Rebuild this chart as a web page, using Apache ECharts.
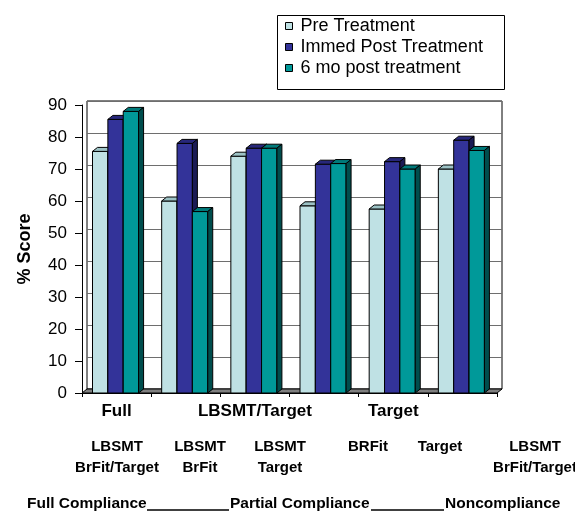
<!DOCTYPE html>
<html>
<head>
<meta charset="utf-8">
<script src="https://cdn.jsdelivr.net/npm/echarts@6/dist/echarts.min.js"></script>
<style>
  html, body { margin: 0; padding: 0; background: #fff; }
  #chart { width: 575px; height: 511px; }
</style>
</head>
<body>
<div id="chart"></div>
<script>
// categories (excel only shows every other label on the axis)
var categories = ['Full', 'LBSMT/BrFit', 'LBSMT/Target', 'BrFit', 'Target', 'None'];
var seriesNames = ['Pre Treatment', 'Immed Post Treatment', '6 mo post treatment'];
var preTreatment = [75.5, 60, 74, 58.5, 57.5, 70];
var immedPost = [85.5, 78, 76.5, 71.5, 72.3, 79];
var sixMoPost = [88, 56.7, 76.5, 71.7, 70, 75.8];
var yTicks = [0, 10, 20, 30, 40, 50, 60, 70, 80, 90];
var subLabels = ['LBSMT\nBrFit/Target', 'LBSMT\nBrFit', 'LBSMT\nTarget', 'BRFit', 'Target', 'LBSMT\nBrFit/Target'];
var complianceLabels = ['Full Compliance', 'Partial Compliance', 'Noncompliance'];

// 3d look: front / top / side colours per series
var faces = [
  { front: '#bfe1e4', top: '#9cc2c5', side: '#7fa3a6' },
  { front: '#333399', top: '#27277a', side: '#1b1b55' },
  { front: '#009999', top: '#007a7a', side: '#004d4d' }
];
var DX = 5, DY = 4;

function barRenderer(idx) {
  return function (params, api) {
    var cat = api.value(0);
    var base = api.coord([cat, 0]);
    var top = api.coord([cat, api.value(1)]);
    var band = api.size([1, 0])[0];
    var w = band * 0.222;
    var cx = base[0] + (idx - 1) * w - band * 0.015;
    var x0 = cx - w / 2, x1 = cx + w / 2;
    var f = faces[idx];
    var line = { stroke: '#000', lineWidth: 1 };
    return {
      type: 'group',
      children: [
        { type: 'rect', shape: { x: x0, y: top[1], width: w, height: base[1] - top[1] },
          style: Object.assign({ fill: f.front }, line) },
        { type: 'polygon', shape: { points: [[x0, top[1]], [x1, top[1]], [x1 + DX, top[1] - DY], [x0 + DX, top[1] - DY]] },
          style: Object.assign({ fill: f.top }, line) },
        { type: 'polygon', shape: { points: [[x1, top[1]], [x1 + DX, top[1] - DY], [x1 + DX, base[1] - DY], [x1, base[1]]] },
          style: Object.assign({ fill: f.side }, line) }
      ]
    };
  };
}

function floorRenderer(params, api) {
  var band = api.size([1, 0])[0];
  var a = api.coord([0, 0]);
  var b = api.coord([categories.length - 1, 0]);
  var x0 = a[0] - band / 2, x1 = b[0] + band / 2, y = a[1];
  return {
    type: 'polygon',
    shape: { points: [[x0, y], [x1, y], [x1 + DX, y - DY], [x0 + DX, y - DY]] },
    style: { fill: '#7f7f7f', stroke: '#000', lineWidth: 1 }
  };
}

var chart = echarts.init(document.getElementById('chart'));
var font = 'Liberation Sans, Arial, sans-serif';

var seriesData = [preTreatment, immedPost, sixMoPost];
var series = [{
  type: 'custom',
  name: 'floor',
  xAxisIndex: 0, yAxisIndex: 0,
  renderItem: floorRenderer,
  data: [[0, 0]],
  z: 1,
  silent: true
}];
seriesData.forEach(function (vals, i) {
  series.push({
    type: 'custom',
    name: seriesNames[i],
    xAxisIndex: 0, yAxisIndex: 0,
    itemStyle: { color: faces[i].front },
    renderItem: barRenderer(i),
    data: vals.map(function (v, k) { return [k, v]; }),
    z: 3
  });
});

var graphics = [
  { type: 'rect', left: 275, top: 13, shape: { width: 227, height: 74 },
    style: { fill: 'none', stroke: '#000', lineWidth: 1 } }
];
var subPos = [117, 200, 280, 368, 440, 535];
subLabels.forEach(function (t, i) {
  graphics.push({
    type: 'text', x: subPos[i], y: 436,
    style: { text: t, font: 'bold 15px ' + font, fill: '#000', textAlign: 'center', lineHeight: 21 }
  });
});
var compX = [27, 230, 445];
complianceLabels.forEach(function (t, i) {
  graphics.push({
    type: 'text', x: compX[i], y: 496,
    style: { text: t, font: 'bold 15.5px ' + font, fill: '#000' }
  });
});
graphics.push({ type: 'line', shape: { x1: 147, y1: 510, x2: 229, y2: 510 }, style: { stroke: '#000', lineWidth: 1.5 } });
graphics.push({ type: 'line', shape: { x1: 371, y1: 510, x2: 444, y2: 510 }, style: { stroke: '#000', lineWidth: 1.5 } });

chart.setOption({
  animation: false,
  backgroundColor: '#fff',
  textStyle: { fontFamily: font },
  legend: {
    orient: 'vertical',
    left: 285, top: 15.5,
    padding: 0,
    itemGap: 0,
    itemWidth: 7, itemHeight: 7,
    icon: 'rect',
    itemStyle: { borderColor: '#000', borderWidth: 1 },
    textStyle: { fontSize: 18, color: '#000', lineHeight: 21, padding: [0, 0, 0, 3] },
    data: seriesNames
  },
  grid: [
    { left: 82, right: 78, top: 105, bottom: 118 },
    { left: 87, right: 73, top: 101, bottom: 122, show: true, borderColor: '#000', borderWidth: 1, backgroundColor: '#fff', z: -1 }
  ],
  xAxis: [{
    type: 'category', gridIndex: 0, data: categories,
    boundaryGap: true,
    axisLine: { lineStyle: { color: '#000', width: 1 } },
    axisTick: { show: true, length: 4, interval: 0, lineStyle: { color: '#000' } },
    axisLabel: { interval: 1, color: '#000', fontSize: 17, fontWeight: 'bold', margin: 10 }
  }, {
    type: 'category', gridIndex: 1, data: categories,
    axisLine: { show: false }, axisTick: { show: false }, axisLabel: { show: false }
  }],
  yAxis: [{
    type: 'value', gridIndex: 0, min: yTicks[0], max: yTicks[yTicks.length - 1], interval: 10,
    name: '% Score', nameLocation: 'middle', nameGap: 48,
    nameTextStyle: { fontSize: 18, fontWeight: 'bold', color: '#000' },
    axisLine: { show: true, lineStyle: { color: '#000' } },
    axisTick: { show: true, length: 7, lineStyle: { color: '#000' } },
    axisLabel: { color: '#000', fontSize: 17, margin: 15 },
    splitLine: { show: false }
  }, {
    type: 'value', gridIndex: 1, min: yTicks[0], max: yTicks[yTicks.length - 1], interval: 10,
    axisLine: { show: false }, axisTick: { show: false }, axisLabel: { show: false },
    splitLine: { show: true, lineStyle: { color: '#6e6e6e', width: 1 } }
  }],
  graphic: graphics,
  series: series
});
</script>
</body>
</html>
